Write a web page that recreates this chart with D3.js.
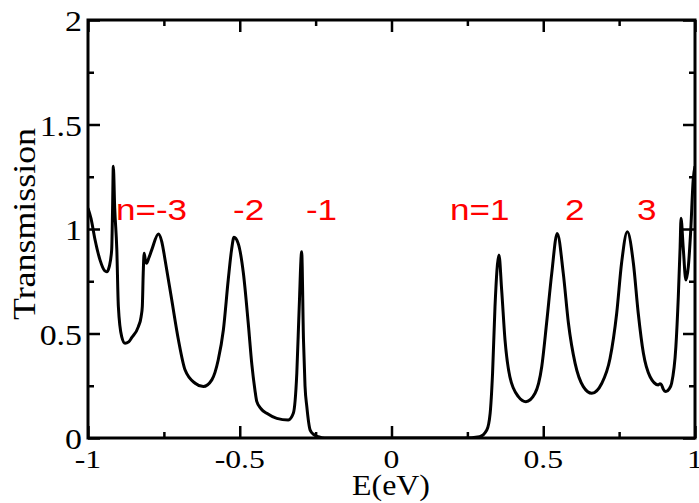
<!DOCTYPE html>
<html>
<head>
<meta charset="utf-8">
<script src="https://cdn.jsdelivr.net/npm/d3@7"></script>
<style>
  body { margin: 0; background: #fff; }
  svg { display: block; }
</style>
</head>
<body>
<div id="chart"></div>
<script>
// Transmission vs energy

var energy = [
  -1.000, -0.990, -0.977, -0.960, -0.945, -0.938, -0.930, -0.922, -0.919, -0.9166,
  -0.912, -0.905, -0.900, -0.889, -0.878, -0.866, -0.856, -0.834, -0.825, -0.821,
  -0.818, -0.815, -0.811, -0.807, -0.800, -0.790, -0.768, -0.757, -0.746, -0.724,
  -0.702, -0.680, -0.647, -0.620, -0.592, -0.571, -0.554, -0.538, -0.527, -0.519,
  -0.505, -0.488, -0.472, -0.460, -0.450, -0.444, -0.430, -0.411, -0.378, -0.340,
  -0.3235, -0.312, -0.304, -0.296, -0.290, -0.285, -0.279, -0.268, -0.255, -0.241,
  -0.220, 0.240, 0.290, 0.314, 0.325, 0.333, 0.341, 0.354, 0.363, 0.374,
  0.390, 0.418, 0.443, 0.473, 0.495, 0.511, 0.528, 0.546, 0.566, 0.583,
  0.605, 0.632, 0.660, 0.693, 0.720, 0.742, 0.758, 0.777, 0.797, 0.813,
  0.830, 0.852, 0.879, 0.885, 0.890, 0.895, 0.904, 0.915, 0.923, 0.937,
  0.945, 0.951, 0.954, 0.961, 0.970, 0.978, 0.986, 0.994, 1.000
];

var transmission = [
  1.10, 1.05, 0.95, 0.85, 0.80, 0.795, 0.82, 0.90, 1.10, 1.30,
  1.10, 0.90, 0.63, 0.485, 0.453, 0.46, 0.48, 0.533, 0.58, 0.63,
  0.79, 0.884, 0.85, 0.836, 0.86, 0.90, 0.976, 0.94, 0.852, 0.66,
  0.469, 0.325, 0.262, 0.246, 0.278, 0.373, 0.517, 0.756, 0.90, 0.96,
  0.93, 0.788, 0.549, 0.35, 0.23, 0.175, 0.14, 0.118, 0.094, 0.086,
  0.118, 0.31, 0.63, 0.891, 0.469, 0.25, 0.15, 0.038, 0.015, 0.006,
  0.0, 0.0, 0.006, 0.038, 0.118, 0.31, 0.628, 0.876, 0.708, 0.469,
  0.293, 0.198, 0.174, 0.214, 0.341, 0.549, 0.788, 0.979, 0.788, 0.549,
  0.357, 0.246, 0.214, 0.262, 0.38, 0.597, 0.836, 0.987, 0.836, 0.597,
  0.405, 0.293, 0.254, 0.26, 0.254, 0.235, 0.222, 0.235, 0.262, 0.437,
  0.676, 0.915, 1.051, 0.915, 0.756, 0.82, 0.995, 1.234, 1.30
];

var xMajorTicks = [-1, -0.5, 0, 0.5, 1];
var xMajorLabels = ["-1", "-0.5", "0", "0.5", "1"];
var xMinorTicks = [-0.75, -0.25, 0.25, 0.75];
var yMajorTicks = [0, 0.5, 1, 1.5, 2];
var yMajorLabels = ["0", "0.5", "1", "1.5", "2"];
var yMinorTicks = [0.25, 0.75, 1.25, 1.75];

// peak labels: text, energy and transmission where each one starts
var peakLabels = ["n=-3", "-2", "-1", "n=1", "2", "3"];
var peakLabelE = [-0.908, -0.522, -0.282, 0.193, 0.572, 0.809];
var peakLabelT = 1.043;

var svgWidth = 699;
var svgHeight = 503;

var margin = { top: 20, right: 4, bottom: 65, left: 88 };
var width = svgWidth - margin.left - margin.right;
var height = svgHeight - margin.top - margin.bottom;

var svg = d3.select("#chart")
  .append("svg")
  .attr("width", svgWidth)
  .attr("height", svgHeight);

var chartGroup = svg.append("g")
  .attr("transform", `translate(${margin.left}, ${margin.top})`);

var xScale = d3.scaleLinear().domain([-1, 1]).range([0, width]);
var yScale = d3.scaleLinear().domain([0, 2]).range([height, 0]);

var serif = "'Liberation Serif', 'Times New Roman', serif";

// ticks on all four sides, pointing inward
function tickAxis(axisFn, scale, values, size) {
  return axisFn(scale).tickValues(values).tickSizeInner(size).tickSizeOuter(0).tickFormat("");
}

function drawTicks(g) {
  g.selectAll(".domain").remove();
  g.selectAll("line").attr("stroke", "#000").attr("stroke-width", 2.5);
}

chartGroup.append("g").attr("transform", `translate(0, ${height})`)
  .call(tickAxis(d3.axisBottom, xScale, xMajorTicks, -12)).call(drawTicks);
chartGroup.append("g").attr("transform", `translate(0, ${height})`)
  .call(tickAxis(d3.axisBottom, xScale, xMinorTicks, -6)).call(drawTicks);
chartGroup.append("g")
  .call(tickAxis(d3.axisTop, xScale, xMajorTicks, -12)).call(drawTicks);
chartGroup.append("g")
  .call(tickAxis(d3.axisTop, xScale, xMinorTicks, -6)).call(drawTicks);
chartGroup.append("g")
  .call(tickAxis(d3.axisLeft, yScale, yMajorTicks, -12)).call(drawTicks);
chartGroup.append("g")
  .call(tickAxis(d3.axisLeft, yScale, yMinorTicks, -6)).call(drawTicks);
chartGroup.append("g").attr("transform", `translate(${width}, 0)`)
  .call(tickAxis(d3.axisRight, yScale, yMajorTicks, -12)).call(drawTicks);
chartGroup.append("g").attr("transform", `translate(${width}, 0)`)
  .call(tickAxis(d3.axisRight, yScale, yMinorTicks, -6)).call(drawTicks);

// tick labels
chartGroup.append("g")
  .selectAll("text")
  .data(xMajorTicks)
  .enter()
  .append("text")
  .attr("transform", d => `translate(${xScale(d)}, ${height + 30}) scale(1.22, 1)`)
  .attr("text-anchor", "middle")
  .style("font-family", serif)
  .style("font-size", "26px")
  .text((d, i) => xMajorLabels[i]);

chartGroup.append("g")
  .selectAll("text")
  .data(yMajorTicks)
  .enter()
  .append("text")
  .attr("transform", d => `translate(-6, ${yScale(d) + 11}) scale(1.13, 1)`)
  .attr("text-anchor", "end")
  .style("font-family", serif)
  .style("font-size", "30px")
  .text((d, i) => yMajorLabels[i]);

// curve
chartGroup.append("clipPath")
  .attr("id", "plotClip")
  .append("rect")
  .attr("width", width)
  .attr("height", height);

var line = d3.line()
  .x((d, i) => xScale(energy[i]))
  .y(d => yScale(d))
  .curve(d3.curveMonotoneX);

chartGroup.append("path")
  .datum(transmission)
  .attr("clip-path", "url(#plotClip)")
  .attr("d", line)
  .attr("fill", "none")
  .attr("stroke", "#000")
  .attr("stroke-width", 3)
  .attr("stroke-linejoin", "round");

// frame
chartGroup.append("rect")
  .attr("width", width)
  .attr("height", height)
  .attr("fill", "none")
  .attr("stroke", "#000")
  .attr("stroke-width", 3);

// peak labels
chartGroup.append("g")
  .selectAll("text")
  .data(peakLabels)
  .enter()
  .append("text")
  .attr("transform", (d, i) => `translate(${xScale(peakLabelE[i])}, ${yScale(peakLabelT)}) scale(1.17, 1)`)
  .style("font-family", "'Liberation Sans', Arial, sans-serif")
  .style("font-size", "30px")
  .attr("fill", "#ff0000")
  .text(d => d);

// axis titles
svg.append("text")
  .attr("x", 391)
  .attr("y", 495)
  .attr("text-anchor", "middle")
  .attr("textLength", 78)
  .attr("lengthAdjust", "spacingAndGlyphs")
  .style("font-family", serif)
  .style("font-size", "29px")
  .text("E(eV)");

svg.append("text")
  .attr("transform", "translate(35, 224) rotate(-90)")
  .attr("text-anchor", "middle")
  .attr("textLength", 192)
  .attr("lengthAdjust", "spacingAndGlyphs")
  .style("font-family", serif)
  .style("font-size", "32px")
  .text("Transmission");
</script>
</body>
</html>
